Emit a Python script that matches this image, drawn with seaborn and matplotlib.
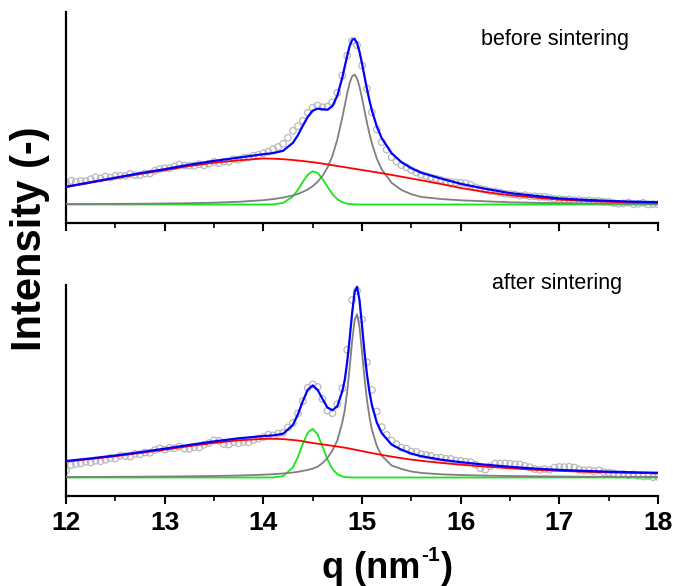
import numpy as np
import pandas as pd
import matplotlib
matplotlib.use("Agg")
import matplotlib.pyplot as plt
import seaborn as sns
from matplotlib.ticker import MultipleLocator, NullFormatter

# ---------------- data (arbitrary intensity units) -------------
Q_FIT = [12.0, 12.25, 12.5, 12.75, 13.0, 13.25, 13.5, 13.75, 14.0, 14.1, 14.2, 14.3,
         14.35, 14.4, 14.45, 14.5, 14.55, 14.6, 14.65, 14.7, 14.75, 14.8, 14.825, 14.85,
         14.875, 14.9, 14.925, 14.95, 14.975, 15.0, 15.025, 15.05, 15.075, 15.1, 15.15,
         15.2, 15.3, 15.4, 15.5, 15.6, 15.8, 16.0, 16.25, 16.5, 16.75, 17.0, 17.25, 17.5,
         17.75, 18.0]

# before sintering: fit components
BEFORE_RED = [17.3, 21.8, 26.2, 30.5, 34.3, 38.5, 41.8, 44.2, 46.0, 45.8, 45.3, 44.5,
              44.0, 43.5, 42.9, 42.3, 41.6, 40.9, 40.1, 39.3, 38.5, 37.7, 37.3, 36.9,
              36.5, 36.1, 35.7, 35.3, 34.9, 34.5, 34.1, 33.7, 33.3, 32.9, 32.1,
              31.3, 29.6, 27.8, 26.0, 24.2, 20.5, 16.5, 12.5, 9.2, 7.0, 4.8, 3.6, 2.7,
              2.0, 1.6]
BEFORE_GREY = [0.45, 0.52, 0.64, 0.79, 1.0, 1.33, 1.84, 2.69, 4.3, 5.4, 6.9, 9.1,
               10.6, 12.6, 15.0, 18.3, 22.7, 28.6, 36.9, 48.6, 65.0, 86.8, 99.1, 111.1,
               121.5, 128.2, 129.9, 126.1, 117.7, 106.4, 94.1, 82.0, 71.0, 61.3, 45.9,
               35.0, 21.7, 14.5, 10.3, 7.6, 5.5, 4.2, 3.2, 2.2, 1.7, 1.3, 1.1, 0.9,
               0.8, 0.7]
BEFORE_GREEN = [0, 0, 0, 0, 0, 0, 0, 0, 0, 0.15, 1.5, 8.1,
                14.7, 22.6, 29.7, 33.2, 31.6, 25.7, 17.8, 10.5, 5.3, 2.3, 1.4, 0.8,
                0.5, 0.3, 0.1, 0, 0, 0, 0, 0, 0, 0, 0,
                0, 0, 0, 0, 0, 0, 0, 0, 0, 0, 0, 0, 0,
                0, 0]
BEFORE_BLUE = [17.8, 22.3, 26.8, 31.3, 35.3, 39.8, 43.6, 46.9, 50.3, 51.4, 53.7, 61.7,
               69.3, 78.7, 87.6, 93.8, 95.9, 95.2, 94.8, 98.4, 108.8, 126.8, 137.8, 148.8,
               158.5, 164.6, 165.7, 161.4, 152.6, 140.9, 128.2, 115.7, 104.3, 94.2, 78.0,
               66.3, 51.3, 42.3, 36.3, 31.8, 26.0, 20.7, 15.7, 11.4, 8.7, 6.1, 4.7, 3.6,
               2.8, 2.3]

# after sintering: fit components
AFTER_RED = [16.0, 18.5, 21.3, 24.5, 27.8, 31.4, 34.6, 37.2, 38.6, 38.7, 38.4, 37.5,
             37.0, 36.2, 35.3, 34.5, 33.8, 33.1, 32.4, 31.7, 31.0, 30.2, 29.8, 29.4,
             28.9, 28.4, 27.9, 27.4, 26.9, 26.4, 25.9, 25.4, 24.9, 24.4, 23.5,
             22.6, 20.9, 19.3, 17.9, 16.7, 14.6, 12.8, 10.9, 9.2, 7.7, 6.6, 5.8, 5.1,
             4.6, 4.2]
AFTER_GREY = [0.5, 0.6, 0.7, 0.8, 1.0, 1.2, 1.5, 2.0, 2.8, 3.3, 4.0, 5.0,
              5.7, 6.6, 7.6, 8.9, 10.8, 14.5, 19.5, 27.0, 37.0, 55.0, 67.1, 86.0,
              109.9, 136.1, 157.4, 163.3, 150.2, 125.7, 99.8, 77.9, 60.9, 48.1, 31.5,
              21.8, 12.0, 8.5, 6.0, 4.6, 3.2, 2.5, 1.9, 1.5, 1.2, 1.0, 0.8, 0.7,
              0.6, 0.5]
AFTER_GREEN = [0, 0, 0, 0, 0, 0, 0, 0, 0, 0.08, 1.3, 10.1,
               20.4, 33.5, 44.8, 48.7, 43.0, 30.9, 18.0, 8.6, 3.3, 1.0, 0.5, 0.27,
               0.1, 0, 0, 0, 0, 0, 0, 0, 0, 0, 0,
               0, 0, 0, 0, 0, 0, 0, 0, 0, 0, 0, 0, 0,
               0, 0]
AFTER_BLUE = [16.5, 19.1, 22.0, 25.3, 28.8, 32.6, 36.1, 39.2, 41.4, 42.1, 43.7, 52.6,
              63.1, 76.3, 87.7, 92.1, 87.6, 78.5, 69.9, 67.3, 71.3, 86.2, 97.4, 115.7,
              138.9, 164.5, 185.3, 190.7, 177.1, 152.1, 125.7, 103.3, 85.8, 72.5, 55.0,
              44.4, 32.9, 27.8, 23.9, 21.3, 17.8, 15.3, 12.8, 10.7, 8.9, 7.6, 6.6, 5.8,
              5.2, 4.7]

# measured points (every 0.05 nm^-1 from 12 to 18)
Q_DATA = [round(12.0 + 0.05 * i, 2) for i in range(121)]
BEFORE_DATA = [21.8, 23.7, 22.6, 23.5, 23.4, 25.3, 27.2, 26.1, 28.0, 26.9,
               28.8, 28.7, 28.6, 30.5, 29.4, 29.3, 31.1, 30.9, 33.7, 35.5,
               36.3, 36.2, 38.1, 40.0, 38.9, 38.8, 38.6, 40.3, 39.1, 40.8,
               42.6, 41.3, 42.9, 42.6, 45.2, 44.9, 46.6, 47.2, 48.9, 49.6,
               51.3, 52.8, 55.4, 57.5, 60.7, 66.7, 73.7, 78.3, 83.7, 91.6,
               96.8, 98.9, 97.2, 97.8, 102.4, 111.8, 128.8, 148.8, 163.6, 159.4,
               138.9, 115.7, 92.2, 75.0, 62.3, 54.8, 47.3, 42.8, 39.3, 37.3,
               34.3, 32.0, 29.8, 28.3, 26.9, 25.9, 24.5, 23.2, 22.4, 22.0,
               21.7, 21.2, 19.7, 17.2, 15.7, 14.7, 13.3, 12.9, 12.0, 10.7,
               10.4, 9.9, 8.8, 9.3, 8.2, 8.2, 7.7, 7.6, 6.6, 5.6,
               5.6, 4.8, 5.0, 4.3, 4.5, 3.7, 4.0, 3.3, 3.5, 2.8,
               2.6, 1.4, 0.7, 1.1, 1.9, 0.3, 0.7, 1.6, 0.0, 0.4,
               0.3]
AFTER_DATA = [7.0, 12.5, 13.6, 14.1, 15.6, 15.1, 16.7, 16.3, 17.8, 19.4,
              19.0, 21.7, 21.3, 21.0, 23.6, 23.3, 25.0, 24.7, 27.4, 29.1,
              27.8, 29.6, 29.3, 31.1, 28.8, 28.6, 30.3, 30.0, 32.7, 34.4,
              37.1, 36.7, 33.3, 33.0, 35.6, 34.2, 35.6, 35.1, 37.5, 39.0,
              40.4, 42.8, 42.1, 43.9, 44.7, 50.1, 54.6, 64.1, 76.3, 89.7,
              93.1, 90.6, 78.5, 66.9, 64.3, 73.3, 89.2, 127.7, 177.5, 186.7,
              158.1, 115.3, 87.5, 66.0, 50.4, 42.6, 36.9, 33.3, 29.8, 28.8,
              25.9, 25.6, 23.3, 22.4, 21.6, 19.7, 19.8, 18.7, 18.6, 16.9,
              16.8, 15.8, 15.3, 12.8, 9.3, 7.8, 11.4, 14.0, 14.0, 14.1,
              13.7, 13.3, 13.0, 11.6, 10.3, 8.4, 7.6, 8.4, 7.6, 9.9,
              10.6, 10.4, 10.7, 10.0, 7.8, 7.1, 7.4, 6.3, 7.1, 5.5,
              4.8, 4.2, 3.1, 3.4, 2.3, 3.2, 1.6, 1.0, 1.4, 0.3,
              0.7]

X_TICKS = [12, 13, 14, 15, 16, 17, 18]
PANEL_LABELS = ["before sintering", "after sintering"]
X_LABEL_PARTS = ["q (nm", "-1", ")"]
Y_LABEL = "Intensity (-)"

# ---------------- figure -------------
sns.set_theme(style="white")
plt.rcParams["font.family"] = ["Liberation Sans", "DejaVu Sans"]
for key in ["text.color", "axes.labelcolor", "xtick.color", "ytick.color",
            "axes.edgecolor"]:
    plt.rcParams[key] = "black"

W, H = 673, 586
fig = plt.figure(figsize=(W / 100, H / 100), dpi=100)
ax_top = fig.add_axes([66 / W, 1 - 223 / H, 592 / W, 211 / H])
ax_bot = fig.add_axes([66 / W, 1 - 496 / H, 592 / W, 211 / H])

panels = [
    (ax_top, BEFORE_DATA, BEFORE_RED, BEFORE_GREY, BEFORE_GREEN, BEFORE_BLUE),
    (ax_bot, AFTER_DATA, AFTER_RED, AFTER_GREY, AFTER_GREEN, AFTER_BLUE),
]

for ax, data, red, grey, green, blue in panels:
    sns.scatterplot(x=Q_DATA, y=data, ax=ax, marker="o", s=22,
                    facecolor="none", edgecolor="#b8b8b8", linewidth=0.9, zorder=1)
    sns.lineplot(x=Q_FIT, y=green, ax=ax, color="#19e619", linewidth=1.3,
                 estimator=None, zorder=2)
    sns.lineplot(x=Q_FIT, y=grey, ax=ax, color="#7f7f7f", linewidth=1.3,
                 estimator=None, zorder=3)
    sns.lineplot(x=Q_FIT, y=red, ax=ax, color="#ff0000", linewidth=1.3,
                 estimator=None, zorder=4)
    sns.lineplot(x=Q_FIT, y=blue, ax=ax, color="#0000ff", linewidth=1.6,
                 estimator=None, zorder=5)

    ax.set_xlim(12, 18)
    ax.set_ylim(-18.5, 192.5)
    for side in ["top", "right"]:
        ax.spines[side].set_visible(False)
    for side in ["left", "bottom"]:
        ax.spines[side].set_linewidth(1.6)
        ax.spines[side].set_color("black")
    ax.set_yticks([])
    ax.set_xticks(X_TICKS)
    ax.xaxis.set_minor_locator(MultipleLocator(0.5))
    ax.tick_params(axis="x", which="major", direction="out", length=6, width=1.5,
                   color="black", bottom=True)
    ax.tick_params(axis="x", which="minor", direction="out", length=3.5, width=1.2,
                   color="black", bottom=True)
    ax.set_xlabel("")
    ax.set_ylabel("")

ax_top.xaxis.set_major_formatter(NullFormatter())
ax_bot.set_xticklabels([str(t) for t in X_TICKS])
for lab in ax_bot.get_xticklabels():
    lab.set_fontweight("bold")
    lab.set_fontsize(19)
    lab.set_color("black")
ax_bot.tick_params(axis="x", which="major", pad=5)

# x label "q (nm^-1)" composed of normal text + small superscript
fig.canvas.draw()
renderer = fig.canvas.get_renderer()
x0, base_y = 322, 578
t1 = fig.text(x0 / W, 1 - base_y / H, X_LABEL_PARTS[0], fontsize=26,
              fontweight="bold", ha="left", va="baseline")
bb1 = t1.get_window_extent(renderer)
t2 = fig.text((bb1.x1 + 1) / W, 1 - (base_y - 17) / H, X_LABEL_PARTS[1], fontsize=15,
              fontweight="bold", ha="left", va="baseline")
bb2 = t2.get_window_extent(renderer)
fig.text((bb2.x1 + 1) / W, 1 - base_y / H, X_LABEL_PARTS[2], fontsize=26,
         fontweight="bold", ha="left", va="baseline")

fig.text(30 / W, 1 - 239 / H, Y_LABEL, rotation=90, fontsize=30,
         fontweight="bold", ha="center", va="center")

fig.text(555 / W, 1 - 40 / H, PANEL_LABELS[0], fontsize=15.5, ha="center", va="center")
fig.text(557 / W, 1 - 283 / H, PANEL_LABELS[1], fontsize=15.5, ha="center", va="center")

fig.savefig("out.png", dpi=100)
